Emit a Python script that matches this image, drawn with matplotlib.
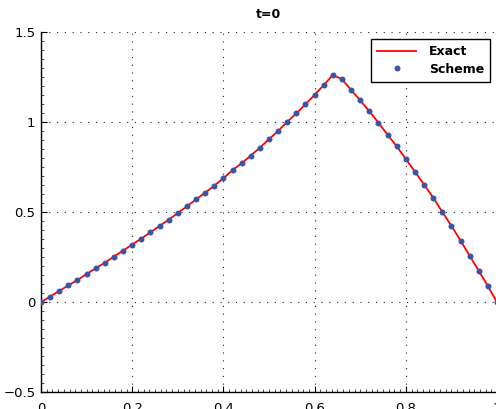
import matplotlib
matplotlib.use("Agg")
import matplotlib.pyplot as plt
from matplotlib.ticker import MultipleLocator

x_vals = [0.00, 0.02, 0.04, 0.06, 0.08, 0.10, 0.12, 0.14, 0.16, 0.18,
          0.20, 0.22, 0.24, 0.26, 0.28, 0.30, 0.32, 0.34, 0.36, 0.38,
          0.40, 0.42, 0.44, 0.46, 0.48, 0.50, 0.52, 0.54, 0.56, 0.58,
          0.60, 0.62, 0.64, 0.66, 0.68, 0.70, 0.72, 0.74, 0.76, 0.78,
          0.80, 0.82, 0.84, 0.86, 0.88, 0.90, 0.92, 0.94, 0.96, 0.98, 1.00]

exact_y = [0.000, 0.032, 0.063, 0.094, 0.124, 0.157, 0.189, 0.220, 0.254, 0.287,
           0.321, 0.354, 0.389, 0.424, 0.459, 0.496, 0.533, 0.572, 0.609, 0.648,
           0.689, 0.734, 0.772, 0.815, 0.859, 0.906, 0.952, 1.002, 1.050, 1.100,
           1.152, 1.207, 1.263, 1.239, 1.180, 1.122, 1.061, 0.998, 0.931, 0.867,
           0.796, 0.726, 0.654, 0.582, 0.502, 0.425, 0.343, 0.259, 0.175, 0.090, 0.000]

scheme_y = [0.000, 0.032, 0.063, 0.094, 0.124, 0.157, 0.189, 0.220, 0.254, 0.287,
            0.321, 0.354, 0.389, 0.424, 0.459, 0.496, 0.533, 0.572, 0.609, 0.648,
            0.689, 0.734, 0.772, 0.815, 0.859, 0.906, 0.952, 1.002, 1.050, 1.100,
            1.152, 1.207, 1.263, 1.239, 1.180, 1.122, 1.061, 0.998, 0.931, 0.867,
            0.796, 0.726, 0.654, 0.582, 0.502, 0.425, 0.343, 0.259, 0.175, 0.090, 0.000]

x_ticks = [0, 0.2, 0.4, 0.6, 0.8, 1]
x_tick_labels = ["0", "0.2", "0.4", "0.6", "0.8", "1"]
y_ticks = [-0.5, 0, 0.5, 1, 1.5]
y_tick_labels = ["\u22120.5", "0", "0.5", "1", "1.5"]

plt.rcParams['font.family'] = ['DejaVu Sans']

fig = plt.figure(figsize=(4.96, 4.09), dpi=100)
ax = fig.add_axes([41/496, 16.7/409, 456/496, 360/409])

ax.plot(x_vals, exact_y, color='#ff0000', lw=1.3, label='Exact', zorder=3)
ax.plot(x_vals, scheme_y, ls='none', marker='o', ms=4.3, color='#3a54a6',
        markeredgewidth=0, label='Scheme', zorder=4)

ax.set_xlim(0, 1)
ax.set_ylim(-0.5, 1.5)
ax.set_xticks(x_ticks)
ax.set_xticklabels(x_tick_labels)
ax.set_yticks(y_ticks)
ax.set_yticklabels(y_tick_labels)
ax.xaxis.set_minor_locator(MultipleLocator(0.0125))
ax.yaxis.set_minor_locator(MultipleLocator(0.05))
ax.tick_params(which='major', direction='in', length=4, width=0.8, labelsize=9.5,
               colors='black')
ax.tick_params(axis='x', which='major', pad=7)
ax.tick_params(axis='y', which='major', pad=4)
ax.tick_params(which='minor', direction='in', length=2, width=0.5)

ax.grid(True, which='major', linestyle=(0, (1, 6)), color='#222222', lw=0.8)
ax.spines['top'].set_visible(False)
ax.spines['right'].set_visible(False)
ax.spines['left'].set_linewidth(1.0)
ax.spines['bottom'].set_linewidth(1.0)

ax.set_title('t=0', fontsize=9, fontweight='bold', pad=10)

leg = ax.legend(loc='upper right', bbox_to_anchor=(0.985, 0.981), borderaxespad=0,
                fancybox=False, framealpha=1, edgecolor='black', handlelength=3.1,
                handletextpad=1.0, borderpad=0.5, labelspacing=0.35,
                prop={'weight': 'bold', 'size': 9})
leg.get_frame().set_linewidth(1.0)

fig.savefig('out.png', dpi=100)
